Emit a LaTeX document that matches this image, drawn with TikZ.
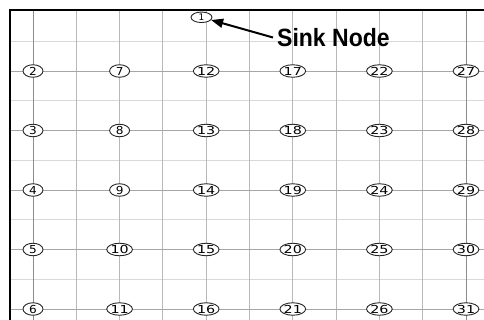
\documentclass[tikz,border=0pt]{standalone}
\usepackage{fontspec}
\setmainfont{DejaVu Sans}
\newfontfamily\labelfont{Liberation Sans}
\usetikzlibrary{arrows.meta,shapes.geometric}
\begin{document}
\begin{tikzpicture}[x=1pt,y=-1pt,
  lightline/.style={draw=black!15, line width=0.9pt},
  colline/.style={draw=black!28, line width=0.9pt},
  rowline/.style={draw=black!35, line width=0.9pt},
  edgecol/.style={draw=black!45, line width=1pt},
  sensor/.style={ellipse, draw=black!85, line width=0.9pt, fill=white,
    minimum width=20pt, minimum height=12.5pt, inner sep=0pt,
    font=\fontsize{11}{11}\selectfont},
  pointer/.style={line width=2pt, -{Triangle[length=12pt,width=9pt]}},
  caption/.style={anchor=base west, inner sep=0pt,
    font=\labelfont\bfseries\fontsize{25}{25}\selectfont},
  frame/.style={line width=2pt, line join=miter}
]
\useasboundingbox (0,0) rectangle (484,320);
\fill[white] (0,0) rectangle (484,320);
% light horizontal lines
\foreach \j in {0,2,4,6,8} \draw[lightline] (10,{41.25+29.75*\j}) -- (484,{41.25+29.75*\j});
% vertical lines
\foreach \k in {0,...,10} \draw[colline] ({33+43.3*\k},10) -- ({33+43.3*\k},320);
% node row lines
\foreach \j in {1,3,5,7,9} \draw[rowline] (10,{41.25+29.75*\j}) -- (484,{41.25+29.75*\j});
\draw[edgecol] (33,10) -- (33,320);
\draw[edgecol] (466,10) -- (466,320);
% frame
\draw[frame] (10,320) -- (10,10) -- (484,10);
% sensor nodes
\foreach \c in {0,...,5} \foreach \r in {0,...,4} {
  \pgfmathtruncatemacro\n{2+5*\c+\r}
  \pgfmathsetmacro\sx{\n<10 ? 1.1 : 1.3}
  \node[sensor] (n\n) at ({33+86.6*\c},{71+59.5*\r}) {\scalebox{\sx}[1]{\n}};
}
% sink node
\node[sensor, minimum width=21pt, minimum height=10.5pt, font=\fontsize{9}{9}\selectfont] (n1) at (201.5,17.3) {1};
\coordinate (tail) at (273,37.5);
\draw[pointer] (tail) -- (n1);
\node[caption] (sink) at (277,46.5) {\scalebox{0.92}[1]{Sink Node}};
\end{tikzpicture}
\end{document}
